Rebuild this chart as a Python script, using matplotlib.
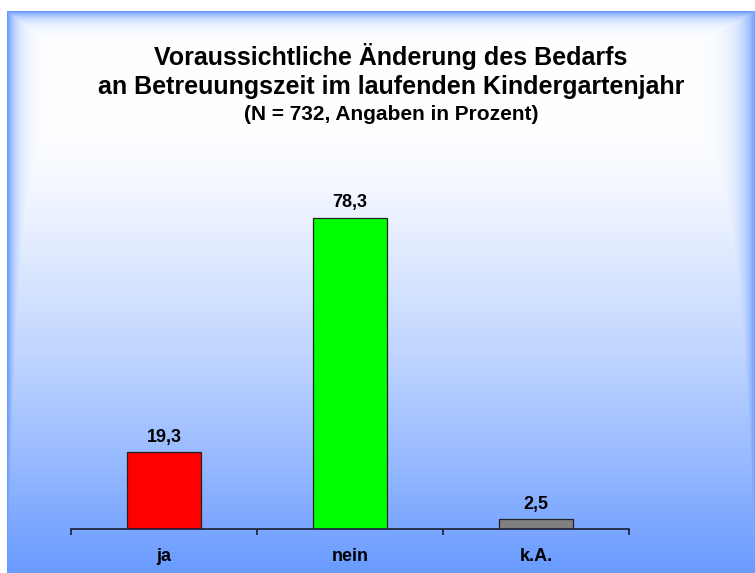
import numpy as np
import matplotlib.pyplot as plt

plt.rcParams['font.family'] = ['Liberation Sans', 'DejaVu Sans']

# ------------------ data ------------------
categories = ['ja', 'nein', 'k.A.']
percent = [19.3, 78.3, 2.5]
bar_colors = ['#ff0000', '#00ff00', '#808080']
title_lines = ['Voraussichtliche Änderung des Bedarfs',
               'an Betreuungszeit im laufenden Kindergartenjahr']
subtitle = '(N = 732, Angaben in Prozent)'

W, H = 755, 573
fig = plt.figure(figsize=(W / 100, H / 100), dpi=100)

# ------------------ background panel ------------------
# white page with a framed panel: white in the middle, fading to blue at the edges and bottom
yy, xx = np.mgrid[0:H, 0:W].astype(float)
x0, y0 = 7, 11
vert = np.clip((yy - 120) / (H - 120), 0, 1) ** 1.3
left = np.exp(-(xx - x0) / 9.0)
top = np.exp(-(yy - y0) / 7.0)
right = np.exp(-(W - xx) / 13.0)
t = np.maximum.reduce([vert, left, top, right])
blue = np.array([104, 154, 255]) / 255.0
img = (1 - t[..., None]) * 1.0 + t[..., None] * blue
img[(xx < x0) | (yy < y0)] = 1.0

bg = fig.add_axes([0, 0, 1, 1], zorder=-1)
bg.imshow(img, aspect='auto', interpolation='nearest')
bg.axis('off')

# ------------------ bars ------------------
base_px, ymax = 529, 90
px_per_unit = 311 / 78.3
top_px = base_px - ymax * px_per_unit
ax = fig.add_axes([71 / W, (H - base_px) / H, (629 - 71) / W, (base_px - top_px) / H], zorder=1)
ax.patch.set_alpha(0)

x = np.arange(len(categories))
bars = ax.bar(x, percent, width=0.4, color=bar_colors, edgecolor='#222222', linewidth=0.9)
for b, v in zip(bars, percent):
    ax.text(b.get_x() + b.get_width() / 2, v + 15 / px_per_unit, f'{v:.1f}'.replace('.', ','),
            ha='center', va='center', fontsize=13, fontweight='bold')

ax.set_xlim(-0.5, len(categories) - 0.5)
ax.set_ylim(0, ymax)
for s in ['left', 'right', 'top']:
    ax.spines[s].set_visible(False)
ax.spines['bottom'].set_color('#1a1f33')
ax.spines['bottom'].set_linewidth(1.2)
ax.set_yticks([])
ax.set_xticks(x)
ax.set_xticklabels(categories, fontsize=13, fontweight='bold')
ax.set_xticks(np.arange(len(categories) + 1) - 0.5, minor=True)
ax.tick_params(axis='x', which='major', length=0, pad=14)
ax.tick_params(axis='x', which='minor', length=4.5, width=1.2, color='#1a1f33')

# ------------------ titles ------------------
cx = 391 / W
fig.text(cx, 1 - 57 / H, title_lines[0], ha='center', va='center', fontsize=18, fontweight='bold')
fig.text(cx, 1 - 87 / H, title_lines[1], ha='center', va='center', fontsize=18, fontweight='bold')
fig.text(cx, 1 - 115 / H, subtitle, ha='center', va='center', fontsize=15, fontweight='bold')

fig.savefig('out.png', dpi=100)
